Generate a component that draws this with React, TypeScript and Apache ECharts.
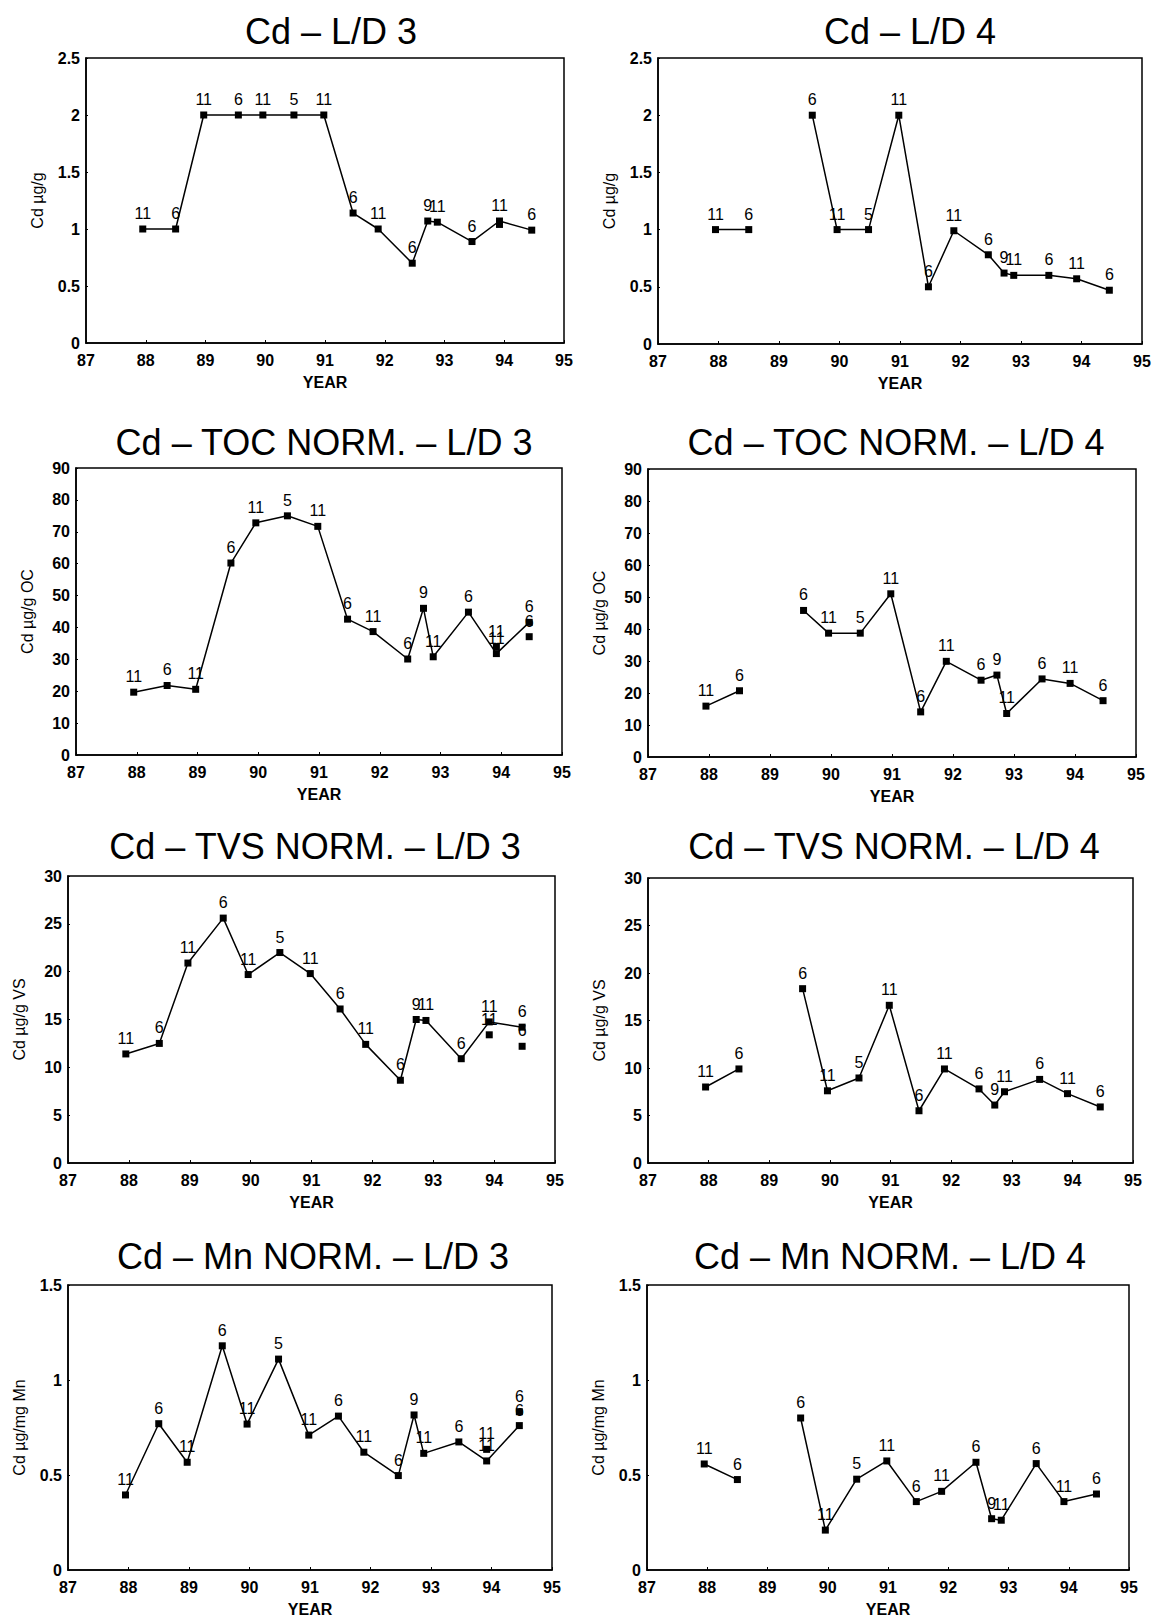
import React, { useEffect, useRef } from "react";
import * as echarts from "echarts";

// Sampling dates (decimal year, 19xx)
const DATES = [87.95, 88.5, 88.97, 89.55, 89.96, 90.48, 90.98, 91.47, 91.89, 92.46, 92.72, 92.88, 93.46, 93.92, 94.46];

// Panel 1: Cd - L/D 3 (µg/g)
const CD_LD3 = [1.0, 1.0, 2.0, 2.0, 2.0, 2.0, 2.0, 1.14, 1.0, 0.7, 1.07, 1.06, 0.89, 1.07, 0.99];
const CD_LD3_N = [11, 6, 11, 6, 11, 5, 11, 6, 11, 6, 9, 11, 6, 11, 6];
const CD_LD3_EXTRA = [[93.92, 1.04]];
const CD_LD3_EXTRA_N = [null];

// Panel 2: Cd - L/D 4 (µg/g)
const CD_LD4 = [1.0, 1.0, null, 2.0, 1.0, 1.0, 2.0, 0.5, 0.99, 0.78, 0.62, 0.6, 0.6, 0.57, 0.47];
const CD_LD4_N = [11, 6, null, 6, 11, 5, 11, 6, 11, 6, 9, 11, 6, 11, 6];

// Panel 3: Cd - TOC norm. - L/D 3 (µg/g OC)
const TOC_LD3 = [19.7, 21.8, 20.6, 60.2, 72.8, 75.0, 71.7, 42.6, 38.7, 30.1, 46.0, 30.8, 44.8, 31.8, 41.6];
const TOC_LD3_N = [11, 6, 11, 6, 11, 5, 11, 6, 11, 6, 9, 11, 6, 11, 6];
const TOC_LD3_EXTRA = [[93.92, 34.0], [94.46, 37.1]];
const TOC_LD3_EXTRA_N = [11, 6];

// Panel 4: Cd - TOC norm. - L/D 4 (µg/g OC)
const TOC_LD4 = [15.9, 20.7, null, 45.8, 38.7, 38.7, 51.0, 14.1, 29.9, 24.0, 25.6, 13.6, 24.4, 23.0, 17.6];
const TOC_LD4_N = [11, 6, null, 6, 11, 5, 11, 6, 11, 6, 9, 11, 6, 11, 6];

// Panel 5: Cd - TVS norm. - L/D 3 (µg/g VS)
const TVS_LD3 = [11.4, 12.5, 20.9, 25.6, 19.7, 22.0, 19.8, 16.1, 12.4, 8.65, 15.0, 14.9, 10.9, 14.75, 14.2];
const TVS_LD3_N = [11, 6, 11, 6, 11, 5, 11, 6, 11, 6, 9, 11, 6, 11, 6];
const TVS_LD3_EXTRA = [[93.92, 13.4], [94.46, 12.2]];
const TVS_LD3_EXTRA_N = [11, 6];

// Panel 6: Cd - TVS norm. - L/D 4 (µg/g VS)
const TVS_LD4 = [8.0, 9.9, null, 18.35, 7.6, 8.95, 16.6, 5.5, 9.9, 7.8, 6.1, 7.5, 8.8, 7.3, 5.9];
const TVS_LD4_N = [11, 6, null, 6, 11, 5, 11, 6, 11, 6, 9, 11, 6, 11, 6];

// Panel 7: Cd - Mn norm. - L/D 3 (µg/mg Mn)
const MN_LD3 = [0.395, 0.77, 0.567, 1.18, 0.768, 1.11, 0.71, 0.81, 0.62, 0.497, 0.816, 0.614, 0.674, 0.574, 0.76];
const MN_LD3_N = [11, 6, 11, 6, 11, 5, 11, 6, 11, 6, 9, 11, 6, 11, 6];
const MN_LD3_EXTRA = [[93.92, 0.635], [94.46, 0.833]];
const MN_LD3_EXTRA_N = [11, 6];

// Panel 8: Cd - Mn norm. - L/D 4 (µg/mg Mn)
const MN_LD4 = [0.558, 0.476, null, 0.8, 0.21, 0.478, 0.574, 0.36, 0.414, 0.567, 0.27, 0.262, 0.56, 0.36, 0.4];
const MN_LD4_N = [11, 6, null, 6, 11, 5, 11, 6, 11, 6, 9, 11, 6, 11, 6];

const TITLES = [
  "Cd – L/D 3", "Cd – L/D 4",
  "Cd – TOC NORM. – L/D 3", "Cd – TOC NORM. – L/D 4",
  "Cd – TVS NORM. – L/D 3", "Cd – TVS NORM. – L/D 4",
  "Cd – Mn NORM. – L/D 3", "Cd – Mn NORM. – L/D 4",
];
const Y_NAMES = ["Cd µg/g", "Cd µg/g", "Cd µg/g OC", "Cd µg/g OC", "Cd µg/g VS", "Cd µg/g VS", "Cd µg/mg Mn", "Cd µg/mg Mn"];
const Y_MAX = [2.5, 2.5, 90, 90, 30, 30, 1.5, 1.5];
const Y_STEP = [0.5, 0.5, 10, 10, 5, 5, 0.5, 0.5];
const X_MIN = 87;
const X_MAX = 95;

const PANELS = [
  { v: CD_LD3, n: CD_LD3_N, ex: CD_LD3_EXTRA, exn: CD_LD3_EXTRA_N },
  { v: CD_LD4, n: CD_LD4_N, ex: [], exn: [] },
  { v: TOC_LD3, n: TOC_LD3_N, ex: TOC_LD3_EXTRA, exn: TOC_LD3_EXTRA_N },
  { v: TOC_LD4, n: TOC_LD4_N, ex: [], exn: [] },
  { v: TVS_LD3, n: TVS_LD3_N, ex: TVS_LD3_EXTRA, exn: TVS_LD3_EXTRA_N },
  { v: TVS_LD4, n: TVS_LD4_N, ex: [], exn: [] },
  { v: MN_LD3, n: MN_LD3_N, ex: MN_LD3_EXTRA, exn: MN_LD3_EXTRA_N },
  { v: MN_LD4, n: MN_LD4_N, ex: [], exn: [] },
];

// layout (px)
const GRIDS = [
  { left: 86, top: 58, width: 478, height: 285 },
  { left: 658, top: 58, width: 484, height: 286 },
  { left: 76, top: 468, width: 486, height: 287 },
  { left: 648, top: 469, width: 488, height: 288 },
  { left: 68, top: 876, width: 487, height: 287 },
  { left: 648, top: 878, width: 485, height: 285 },
  { left: 68, top: 1285, width: 484, height: 285 },
  { left: 647, top: 1285, width: 482, height: 288 },
];
const TITLE_POS = [
  [331, 31], [910, 31],
  [324, 442], [896, 442],
  [315, 846], [894, 846],
  [313, 1256], [890, 1256],
];

const FONT = '"Liberation Sans", Arial, Helvetica, sans-serif';

function buildOption() {
  const grid = GRIDS.map((g) => ({
    ...g,
    show: true,
    borderColor: "#000",
    borderWidth: 1.5,
    backgroundColor: "transparent",
    containLabel: false,
  }));
  const xAxis = GRIDS.map((_, i) => ({
    gridIndex: i,
    type: "value",
    min: X_MIN,
    max: X_MAX,
    interval: 1,
    name: "YEAR",
    nameLocation: "middle",
    nameGap: 31,
    nameTextStyle: { color: "#000", fontSize: 16, fontWeight: "bold", fontFamily: FONT },
    axisLine: { show: true, onZero: false, lineStyle: { color: "#000", width: 1.5 } },
    axisTick: { show: true, inside: true, length: 3, lineStyle: { color: "#000" } },
    axisLabel: { color: "#000", fontSize: 16, fontWeight: "bold", fontFamily: FONT, margin: 9 },
    splitLine: { show: false },
  }));
  const yAxis = GRIDS.map((_, i) => ({
    gridIndex: i,
    type: "value",
    min: 0,
    max: Y_MAX[i],
    interval: Y_STEP[i],
    name: Y_NAMES[i],
    nameLocation: "middle",
    nameGap: 41,
    nameTextStyle: { color: "#000", fontSize: 16, fontFamily: FONT },
    axisLine: { show: true, lineStyle: { color: "#000", width: 1.5 } },
    axisTick: { show: true, inside: true, length: 2, lineStyle: { color: "#000" } },
    axisLabel: { color: "#000", fontSize: 16, fontWeight: "bold", fontFamily: FONT, margin: 6 },
    splitLine: { show: false },
  }));
  const labelStyle = {
    show: true,
    position: "top",
    distance: 4,
    color: "#000",
    fontSize: 16,
    fontFamily: FONT,
  };
  const series: any[] = [];
  PANELS.forEach((p, i) => {
    series.push({
      type: "line",
      xAxisIndex: i,
      yAxisIndex: i,
      data: DATES.map((d, k) => [d, p.v[k]]),
      connectNulls: false,
      symbol: "rect",
      symbolSize: 7,
      showAllSymbol: true,
      itemStyle: { color: "#000", opacity: 1 },
      lineStyle: { color: "#000", width: 1.5 },
      label: { ...labelStyle, formatter: (q: any) => (p.n[q.dataIndex] == null ? "" : String(p.n[q.dataIndex])) },
      z: 3,
    });
    if (p.ex.length) {
      series.push({
        type: "scatter",
        xAxisIndex: i,
        yAxisIndex: i,
        data: p.ex,
        symbol: "rect",
        symbolSize: 7,
        itemStyle: { color: "#000", opacity: 1 },
        label: { ...labelStyle, formatter: (q: any) => (p.exn[q.dataIndex] == null ? "" : String(p.exn[q.dataIndex])) },
        z: 3,
      });
    }
  });
  const graphic = TITLES.map((t, i) => ({
    type: "text",
    x: TITLE_POS[i][0],
    y: TITLE_POS[i][1],
    style: {
      text: t,
      fill: "#000",
      fontSize: 36,
      fontFamily: FONT,
      align: "center",
      verticalAlign: "middle",
    },
  }));
  return {
    animation: false,
    backgroundColor: "#fff",
    grid,
    xAxis,
    yAxis,
    series,
    graphic,
  };
}

export default function App() {
  const ref = useRef<HTMLDivElement>(null);
  useEffect(() => {
    if (!ref.current) return;
    const chart = echarts.init(ref.current, null, { renderer: "svg" });
    chart.setOption(buildOption() as any);
    return () => chart.dispose();
  }, []);
  return (
    <div
      ref={ref}
      style={{ position: "absolute", left: 0, top: 0, width: 1156, height: 1618, background: "#fff" }}
    />
  );
}
